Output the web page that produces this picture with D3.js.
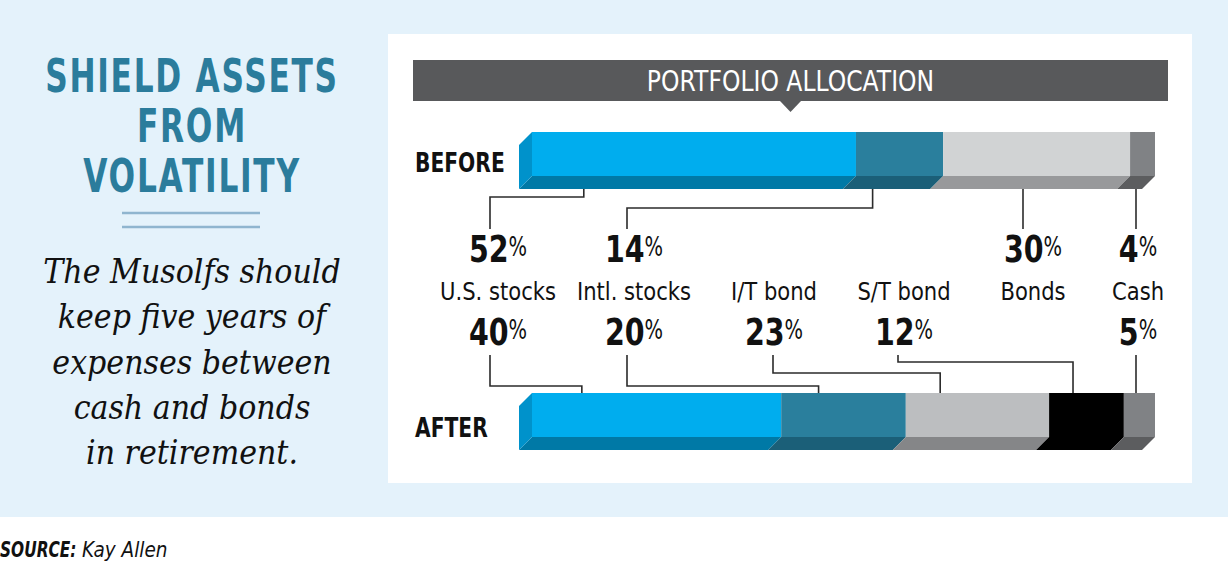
<!DOCTYPE html>
<html><head><meta charset="utf-8">
<script src="https://cdn.jsdelivr.net/npm/d3@7"></script>
<style>
html,body{margin:0;padding:0;background:#fff;}
svg{display:block;}
</style></head>
<body>
<svg id="chart" width="1228" height="588"></svg>
<script>
// ---------- data ----------
const titleLines = ["SHIELD ASSETS", "FROM", "VOLATILITY"];
const subtitleLines = ["The Musolfs should", "keep five years of", "expenses between", "cash and bonds", "in retirement."];
const headerText = "PORTFOLIO ALLOCATION";
const sourceLabel = "SOURCE:";
const sourceName = "Kay Allen";
const rowLabels = ["BEFORE", "AFTER"];

const categories = ["U.S. stocks", "Intl. stocks", "I/T bond", "S/T bond", "Bonds", "Cash"];
const beforeCats = ["U.S. stocks", "Intl. stocks", "Bonds", "Cash"];
const beforeValues = [52, 14, 30, 4];
const afterCats = ["U.S. stocks", "Intl. stocks", "I/T bond", "S/T bond", "Cash"];
const afterValues = [40, 20, 23, 12, 5];
// where a leader line meets each segment (fraction of the segment)
const beforeAttach = [0.2, 0.34, 0.5, 0.75];
const afterAttach = [0.2, 0.3, 0.24, 0.32, 0.4];

// ---------- styles ----------
const faceColor = {"U.S. stocks":"#00adee","Intl. stocks":"#2a7f9d","Bonds":"#d1d3d4","I/T bond":"#bcbec0","S/T bond":"#000000","Cash":"#808285"};
const bottomColor = {"U.S. stocks":"#0079a6","Intl. stocks":"#1b5f78","Bonds":"#98999b","I/T bond":"#858688","S/T bond":"#000000","Cash":"#5c5d5f"};
const sideColor = "#0092cb";
const sans = "'DejaVu Sans',sans-serif";
const serif = "'DejaVu Serif',serif";

const svg = d3.select("#chart");

// text placed at (x,y) and condensed horizontally by sx
function txt(parent, x, y, sx, anchor){
  return parent.append("text")
    .attr("transform",`translate(${x},${y}) scale(${sx},1)`)
    .attr("text-anchor",anchor||"start");
}

// backgrounds
svg.append("rect").attr("x",0).attr("y",0).attr("width",1228).attr("height",517).attr("fill","#e4f2fb");
svg.append("rect").attr("x",388).attr("y",34).attr("width",804).attr("height",449).attr("fill","#ffffff");

// left title
const tg = svg.append("g");
titleLines.forEach((d,i)=>{
  txt(tg,192,92+i*50,0.68,"middle")
    .attr("font-family",sans).attr("font-weight","bold").attr("font-size",46)
    .attr("letter-spacing",2.5).attr("fill","#2b7c9c").text(d);
});
[213,227].forEach(y=>{
  tg.append("line").attr("x1",122).attr("x2",260).attr("y1",y).attr("y2",y)
    .attr("stroke","#8fb5cf").attr("stroke-width",2.5);
});
subtitleLines.forEach((d,i)=>{
  txt(tg,192,283+i*45.3,0.885,"middle")
    .attr("font-family",serif).attr("font-style","italic").attr("font-size",34)
    .attr("fill","#111").text(d);
});

// source
txt(svg,0,557,0.70).attr("font-family",sans).attr("font-style","italic").attr("font-weight","bold")
  .attr("font-size",22).attr("fill","#111").text(sourceLabel);
txt(svg,82,557,0.84).attr("font-family",sans).attr("font-style","italic")
  .attr("font-size",22).attr("fill","#111").text(sourceName);

// header bar
svg.append("rect").attr("x",413).attr("y",60).attr("width",755).attr("height",41).attr("fill","#58595b");
svg.append("path").attr("d","M780,101L801,101L790.5,112Z").attr("fill","#58595b");
txt(svg,790.5,91,0.81,"middle").attr("font-family",sans).attr("font-size",29).attr("fill","#fff").text(headerText);

// ---------- bars ----------
const x = d3.scaleLinear().domain([0,100]).range([532,1155]);
const depth = {dx:-13, dy:13};
const barH = 44;
const rows = [
  {label:rowLabels[0], top:132, cats:beforeCats, vals:beforeValues, attach:beforeAttach},
  {label:rowLabels[1], top:393, cats:afterCats, vals:afterValues, attach:afterAttach}
];
rows.forEach(r=>{
  let acc = 0;
  r.segs = r.cats.map((c,i)=>{ const s={cat:c, v:r.vals[i], x0:acc, x1:acc+r.vals[i], att:r.attach[i]}; acc+=r.vals[i]; return s; });
  const g = svg.append("g");
  g.selectAll("path.bot").data(r.segs).join("path")
    .attr("d",s=>{
      const y0=r.top+barH, a=x(s.x0), b=x(s.x1);
      return `M${a},${y0}L${b},${y0}L${b+depth.dx},${y0+depth.dy}L${a+depth.dx},${y0+depth.dy}Z`;
    }).attr("fill",s=>bottomColor[s.cat]);
  const lx = x(0);
  g.append("path").attr("d",`M${lx},${r.top}L${lx},${r.top+barH}L${lx+depth.dx},${r.top+barH+depth.dy}L${lx+depth.dx},${r.top-depth.dx}Z`)
    .attr("fill",sideColor);
  g.selectAll("rect.front").data(r.segs).join("rect")
    .attr("x",s=>x(s.x0)).attr("y",r.top).attr("width",s=>x(s.x1)-x(s.x0)).attr("height",barH)
    .attr("fill",s=>faceColor[s.cat]);
  txt(svg,415,r.top+40+(r.label==="AFTER"?4:0),0.75)
    .attr("font-family",sans).attr("font-weight","bold").attr("font-size",27)
    .attr("fill","#111").text(r.label);
});

// ---------- labels & leaders ----------
const colX = d3.scaleOrdinal().domain(categories).range([498,634,774,904,1033,1138]);
const leaderOff = {"U.S. stocks":-8,"Intl. stocks":-7,"I/T bond":-1,"S/T bond":-6,"Bonds":-10,"Cash":-2};

function pct(yBase, cat, v){
  const t = txt(svg,colX(cat),yBase,0.75,"middle").attr("fill","#111");
  t.append("tspan").attr("font-family",sans).attr("font-weight","bold").attr("font-size",38).text(v);
  t.append("tspan").attr("font-family",sans).attr("font-size",26).attr("dy",-6).text("%");
}
categories.forEach(c=>{
  txt(svg,colX(c),300,0.88,"middle").attr("font-family",sans).attr("font-size",24).attr("fill","#111").text(c);
});

const lineG = svg.append("g").attr("fill","none").attr("stroke","#2b2b2b").attr("stroke-width",1.6);
const beforeElbow = [197, 208, null, null];
rows[0].segs.forEach((s,i)=>{
  pct(262, s.cat, s.v);
  const lx = colX(s.cat)+leaderOff[s.cat];
  const bx = x(s.x0 + s.att*s.v) + depth.dx;
  const by = rows[0].top+barH+depth.dy;
  const ey = beforeElbow[i];
  const d = ey==null ? `M${lx},${by}L${lx},229` : `M${bx},${by}L${bx},${ey}L${lx},${ey}L${lx},229`;
  lineG.append("path").attr("d",d);
});
const afterElbow = [386, 386, 373, 362, null];
rows[1].segs.forEach((s,i)=>{
  pct(345, s.cat, s.v);
  const lx = colX(s.cat)+leaderOff[s.cat];
  const bx = x(s.x0 + s.att*s.v);
  const by = rows[1].top;
  const ey = afterElbow[i];
  const d = ey==null ? `M${lx},355L${lx},${by}` : `M${lx},355L${lx},${ey}L${bx},${ey}L${bx},${by}`;
  lineG.append("path").attr("d",d);
});
</script>
</body></html>
